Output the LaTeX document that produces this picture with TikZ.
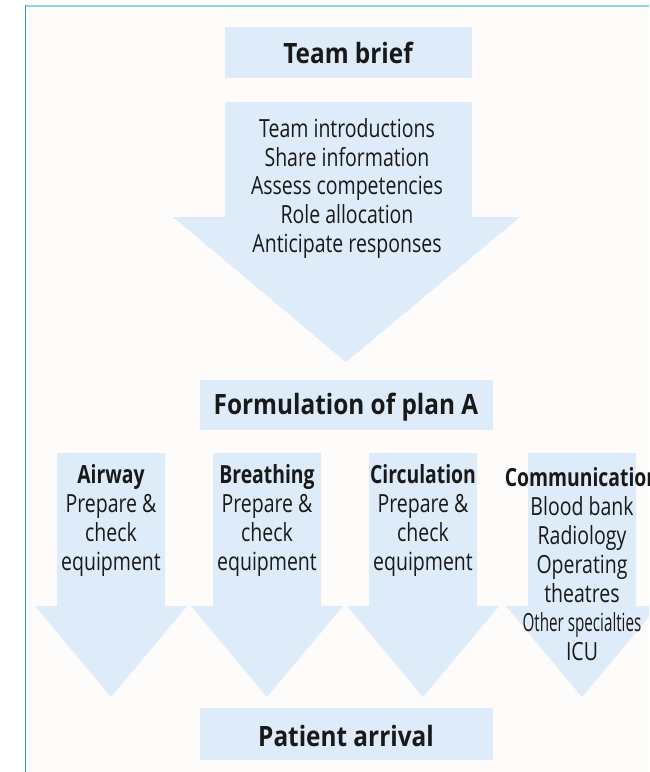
\documentclass[tikz,border=0pt]{standalone}
\usepackage{fontspec}
\setmainfont{Open Sans}[FakeStretch=0.78,BoldFeatures={FakeStretch=0.87}]
\newcommand\branchtitle[1]{\scalebox{0.89}[1]{\textbf{#1}}}
\begin{document}
\begin{tikzpicture}[x=1pt,y=-1pt,
  every node/.style={inner sep=0pt,font=\fontsize{25}{29}\selectfont,text=black!90},
  bighead/.style={font=\fontsize{28}{29}\selectfont\bfseries},
  panel/.style={fill=flowblue},
  lines/.style={align=center}]
\definecolor{flowblue}{RGB}{221,236,248}
\definecolor{paper}{RGB}{253,252,250}
\definecolor{frameleft}{RGB}{45,160,214}
\definecolor{frametop}{RGB}{141,211,238}
\useasboundingbox (0,0) rectangle (649,772);
\clip (0,0) rectangle (649,772);
% page background and frame
\fill[white] (0,0) rectangle (649,772);
\fill[paper] (25,5) rectangle (649,772);
\draw[frametop,line width=2pt] (25,5.5) -- (649,5.5);
\draw[frameleft,line width=1.2pt] (25.5,4.5) -- (25.5,772);

% team brief
\fill[panel] (225,27) rectangle (472,78);
\node[bighead] (brief) at (348,53) {Team brief};

% main arrow
\fill[panel] (225,102) -- (472,102) -- (472,217) -- (520,217) -- (346,362)
  -- (173,217) -- (225,217) -- cycle;
\node[lines] (tasks) at (347,188.5) {Team introductions\\Share information\\Assess competencies\\Role allocation\\Anticipate responses};

% plan A
\fill[panel] (200,380) rectangle (493,430);
\node[bighead] (plan) at (346,407) {Formulation of plan A};

% four branch arrows
\foreach \c in {111,267,423,582}{
  \fill[panel] (\c-54,453) -- (\c+54,453) -- (\c+54,606) -- (\c+76,606)
    -- (\c,697) -- (\c-76,606) -- (\c-54,606) -- cycle;
}
\node[lines] (airway) at (111,520.5) {\branchtitle{Airway}\\Prepare \&\\check\\equipment};
\node[lines] (breath) at (267,520.5) {\branchtitle{Breathing}\\Prepare \&\\check\\equipment};
\node[lines] (circ) at (423,520.5) {\branchtitle{Circulation}\\Prepare \&\\check\\equipment};
\node[lines] (comm) at (582,564) {\branchtitle{Communication}\\Blood bank\\Radiology\\Operating\\theatres\\\scalebox{0.78}[1]{Other specialties}\\ICU};

% patient arrival
\fill[panel] (200,708) rectangle (493,760);
\node[bighead] (arrival) at (346,736) {Patient arrival};
\end{tikzpicture}
\end{document}
